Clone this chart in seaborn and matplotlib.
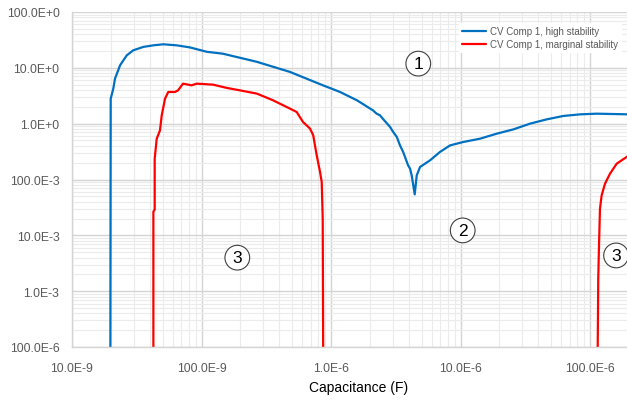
import numpy as np
import pandas as pd
import matplotlib
matplotlib.use("Agg")
import matplotlib.pyplot as plt
import seaborn as sns
from matplotlib.lines import Line2D

# ---------------- data ----------------
blue_label = "CV Comp 1, high stability"
red_label = "CV Comp 1, marginal stability"

blue_C = [1.976e-8, 1.99e-8, 2.084e-8, 2.148e-8, 2.35e-8, 2.645e-8, 2.97e-8, 3.55e-8,
          4.25e-8, 5.07e-8, 6.43e-8, 8.15e-8, 1.096e-7, 1.465e-7, 2.68e-7, 4.82e-7,
          8.67e-7, 1.173e-6, 1.587e-6, 2.11e-6, 2.25e-6, 2.39e-6, 2.54e-6, 2.86e-6,
          3.01e-6, 3.22e-6, 3.41e-6, 3.60e-6, 3.94e-6, 4.08e-6, 4.20e-6, 4.32e-6,
          4.43e-6, 4.59e-6, 4.87e-6, 5.81e-6, 6.94e-6, 8.30e-6, 1.051e-5, 1.415e-5,
          1.905e-5, 2.56e-5, 3.44e-5, 4.63e-5, 6.22e-5, 8.38e-5, 1.127e-4, 2.0e-4]
blue_V = [1e-5, 2.8, 4.24, 6.4, 11.1, 16.7, 20.6, 23.7,
          25.3, 26.4, 25.3, 23.2, 19.4, 17.9, 12.8, 8.45,
          4.86, 3.70, 2.62, 1.73, 1.51, 1.41, 1.19, 0.873,
          0.719, 0.58, 0.408, 0.315, 0.179, 0.156, 0.118, 0.0784,
          0.0541, 0.118, 0.1675, 0.22, 0.311, 0.408, 0.47, 0.538,
          0.662, 0.79, 1.0, 1.194, 1.374, 1.468, 1.51, 1.468]

red1_C = [4.25e-8, 4.25e-8, 4.35e-8, 4.35e-8, 4.51e-8, 4.78e-8, 4.93e-8, 5.23e-8,
          5.54e-8, 6.24e-8, 6.59e-8, 7.20e-8, 8.40e-8, 9.18e-8, 1.227e-7, 1.574e-7,
          1.982e-7, 2.68e-7, 3.57e-7, 4.82e-7, 5.43e-7, 6.08e-7, 6.49e-7, 6.89e-7,
          7.29e-7, 7.52e-7, 7.76e-7, 8.22e-7, 8.48e-7, 8.63e-7, 8.73e-7]
red1_V = [1e-5, 0.0265, 0.029, 0.236, 0.538, 0.759, 1.41, 2.81,
          3.70, 3.70, 3.95, 5.21, 4.86, 5.21, 5.0, 4.36,
          3.95, 3.45, 2.62, 1.86, 1.62, 1.07, 0.93, 0.814,
          0.62, 0.408, 0.27, 0.138, 0.09, 0.0198, 1e-5]

red2_C = [1.138e-4, 1.158e-4, 1.172e-4, 1.194e-4, 1.230e-4, 1.305e-4, 1.427e-4,
          1.607e-4, 2.0e-4]
red2_V = [1e-5, 0.00167, 0.00575, 0.030, 0.0519, 0.084, 0.127, 0.192, 0.27]

x_ticks = [1e-8, 1e-7, 1e-6, 1e-5, 1e-4]
x_tick_labels = ["10.0E-9", "100.0E-9", "1.0E-6", "10.0E-6", "100.0E-6"]
y_ticks = [1e-4, 1e-3, 1e-2, 1e-1, 1e0, 1e1, 1e2]
y_tick_labels = ["100.0E-6", "1.0E-3", "10.0E-3", "100.0E-3", "1.0E+0", "10.0E+0", "100.0E+0"]

region_labels = ["1", "2", "3", "3"]
region_C = [4.72e-6, 1.04e-5, 1.89e-7, 1.59e-4]
region_V = [11.9, 0.01225, 0.00398, 0.00436]

x_label = "Capacitance (F)"

# ---------------- frame ----------------
df = pd.concat([
    pd.DataFrame({"C": blue_C, "V": blue_V, "series": blue_label, "seg": 0}),
    pd.DataFrame({"C": red1_C, "V": red1_V, "series": red_label, "seg": 1}),
    pd.DataFrame({"C": red2_C, "V": red2_V, "series": red_label, "seg": 2}),
], ignore_index=True)

sns.set_style("white")
plt.rcParams["font.family"] = ["Liberation Sans", "DejaVu Sans"]

W, H = 627, 402
fig = plt.figure(figsize=(W / 100, H / 100), dpi=100)
L, R, T, B = 72, 627, 13, 348
ax = fig.add_axes([L / W, 1 - B / H, (R - L) / W, (B - T) / H])

ax.set_xscale("log")
ax.set_yscale("log")

sns.lineplot(data=df, x="C", y="V", hue="series", units="seg", estimator=None,
             sort=False, palette={blue_label: "#0070C0", red_label: "#FF0000"},
             linewidth=1.6, ax=ax, legend=False)

ax.set_xlim(1e-8, 10 ** (-4 + (R - 590) / 129.5))
ax.set_ylim(1e-4, 1e2)

ax.set_xticks(x_ticks)
ax.set_xticklabels(x_tick_labels)
ax.set_yticks(y_ticks)
ax.set_yticklabels(y_tick_labels)
ax.xaxis.set_minor_locator(matplotlib.ticker.LogLocator(base=10, subs=np.arange(2, 10)))
ax.yaxis.set_minor_locator(matplotlib.ticker.LogLocator(base=10, subs=np.arange(2, 10)))
ax.xaxis.set_minor_formatter(matplotlib.ticker.NullFormatter())
ax.yaxis.set_minor_formatter(matplotlib.ticker.NullFormatter())

ax.tick_params(which="both", length=0)
ax.tick_params(axis="y", labelsize=8.8, labelcolor="#595959", pad=9)
ax.tick_params(axis="x", labelsize=8.8, labelcolor="#595959", pad=11)

ax.grid(True, which="major", color="#D4D4D4", linewidth=1.0)
ax.grid(True, which="minor", color="#EBEBEB", linewidth=0.8)
ax.set_axisbelow(True)

for side in ["top", "right"]:
    ax.spines[side].set_visible(False)
for side in ["left", "bottom"]:
    ax.spines[side].set_color("#D4D4D4")
    ax.spines[side].set_linewidth(1.0)

ax.set_xlabel(x_label, fontsize=10, color="#000000")
ax.set_ylabel("")
ax.xaxis.set_label_coords((358.7 - L) / (R - L), (B - 388) / (B - T))
ax.xaxis.label.set_va("center")

# legend
handles = [Line2D([0], [0], color="#0070C0", lw=1.6),
           Line2D([0], [0], color="#FF0000", lw=1.6)]
leg = ax.legend(handles, [blue_label, red_label], loc="upper right",
                bbox_to_anchor=((621 - L) / (R - L), (B - 24) / (B - T)),
                fontsize=7, frameon=True, fancybox=False, framealpha=1,
                edgecolor="white", facecolor="white", handlelength=2.5,
                handletextpad=0.4, labelspacing=0.35, borderpad=0.3,
                borderaxespad=0)
for t in leg.get_texts():
    t.set_color("#595959")

# circled region labels
for lab, cx, cy in zip(region_labels, region_C, region_V):
    ax.text(cx, cy, lab, ha="center", va="center", fontsize=12.5, color="#000000",
            bbox=dict(boxstyle="circle,pad=0.28", facecolor="white",
                      edgecolor="#404040", linewidth=0.8), zorder=5, clip_on=False)

fig.savefig("out.png", dpi=100)
